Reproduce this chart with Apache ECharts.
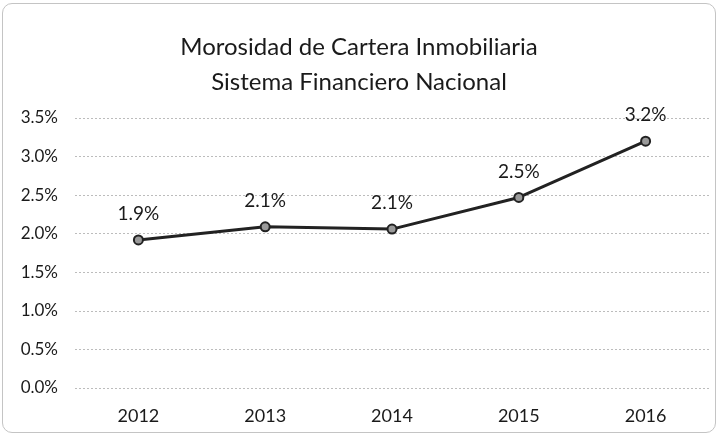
<!DOCTYPE html>
<html>
<head>
<meta charset="utf-8">
<script src="https://cdn.jsdelivr.net/npm/echarts@6/dist/echarts.min.js"></script>
<style>
  html, body { margin: 0; padding: 0; background: #fff; }
  #chart {
    position: absolute; left: 2px; top: 3px; width: 714px; height: 430px;
    border: 1px solid #c4c4c4; border-radius: 10px; box-sizing: border-box;
  }
</style>
</head>
<body>
<div id="chart"></div>
<script>
const years = ['2012', '2013', '2014', '2015', '2016'];
const morosidad = [1.92, 2.09, 2.06, 2.47, 3.2];
const yTicks = [0, 0.5, 1.0, 1.5, 2.0, 2.5, 3.0, 3.5];

const chart = echarts.init(document.getElementById('chart'));

chart.setOption({
    animation: false,
    textStyle: { fontFamily: 'Lato, "Open Sans", sans-serif' },
    title: {
        text: 'Morosidad de Cartera Inmobiliaria\nSistema Financiero Nacional',
        left: 'center',
        top: 21,
        textStyle: {
            fontFamily: 'Lato, "Open Sans", sans-serif',
            fontSize: 24,
            fontWeight: 'normal',
            color: '#1a1a1a',
            lineHeight: 35
        }
    },
    grid: { left: 72, right: 6, top: 114, bottom: 44 },
    xAxis: {
        type: 'category',
        data: years,
        boundaryGap: true,
        axisLine: { show: false },
        axisTick: { show: false },
        axisLabel: { fontSize: 18, color: '#1a1a1a', margin: 19 }
    },
    yAxis: {
        type: 'value',
        min: yTicks[0],
        max: yTicks[yTicks.length - 1],
        interval: 0.5,
        axisLine: { show: false },
        axisTick: { show: false },
        axisLabel: {
            fontSize: 17,
            color: '#1a1a1a',
            margin: 17,
            formatter: (v) => v.toFixed(1) + '%'
        },
        splitLine: { lineStyle: { color: '#bcbcbc', type: [2, 2], width: 1 } }
    },
    series: [{
        type: 'line',
        data: morosidad,
        symbol: 'circle',
        symbolSize: 9,
        lineStyle: { color: '#222', width: 3 },
        itemStyle: { color: '#9a9a9a', borderColor: '#222', borderWidth: 2 },
        label: {
            show: true,
            position: 'top',
            distance: 11,
            fontSize: 19,
            color: '#1a1a1a',
            formatter: (p) => p.value.toFixed(1) + '%'
        }
    }]
});
</script>
</body>
</html>
